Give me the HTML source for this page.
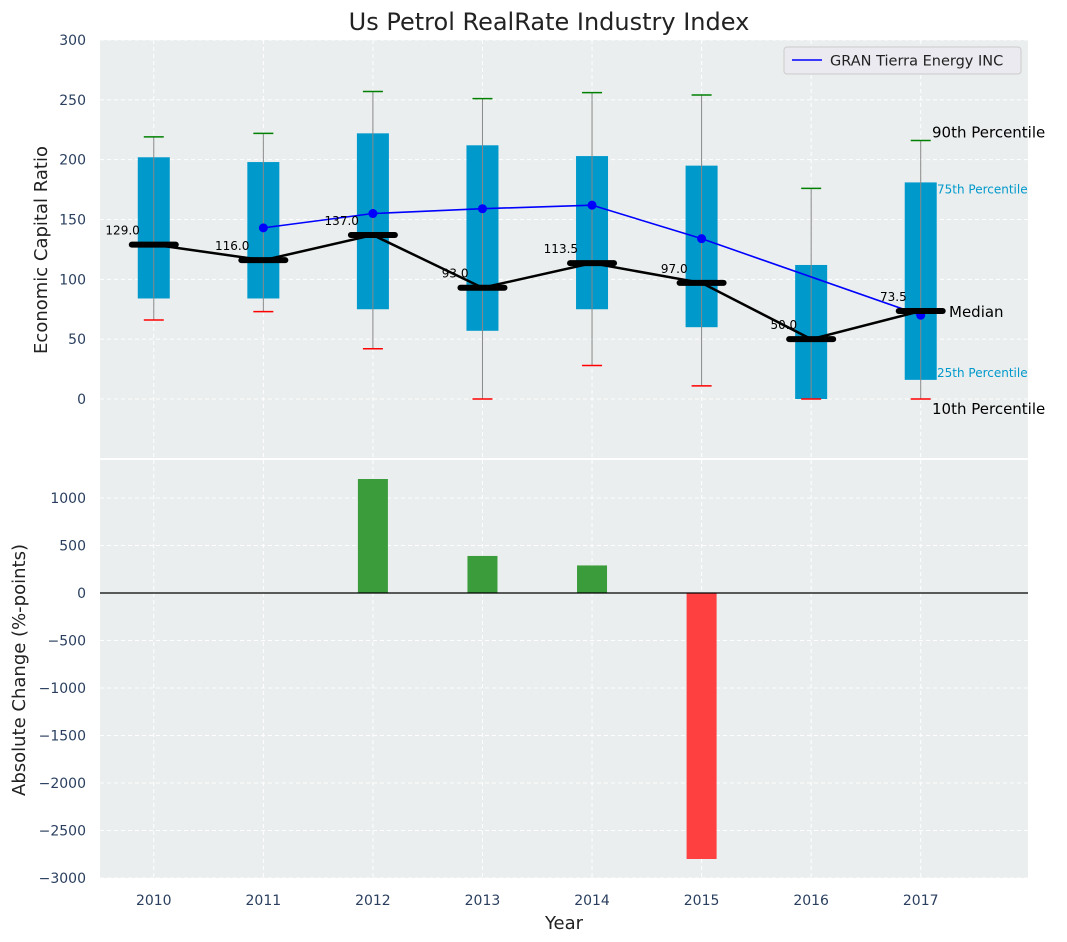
<!DOCTYPE html>
<html><head><meta charset="utf-8"><style>
body{margin:0;background:#fff;}
svg{display:block;font-family:"DejaVu Sans","Liberation Sans",sans-serif;}
</style></head><body>
<svg id="c" width="1067" height="942"></svg>
<script>
const years=[2010,2011,2012,2013,2014,2015,2016,2017];
const p10=[66,73,42,0,28,11,0,0];
const p25=[84,84,75,57,75,60,0,16];
const med=[129,116,137,93,113.5,97,50,73.5];
const p75=[202,198,222,212,203,195,112,181];
const p90=[219,222,257,251,256,254,176,216];
const company=[null,143,155,159,162,134,null,70];
const changes=[0,0,1200,390,290,-2800,0,0];
const yTicksTop=[0,50,100,150,200,250,300];
const yTicksBot=[-3000,-2500,-2000,-1500,-1000,-500,0,500,1000];
const NS="http://www.w3.org/2000/svg";
const svg=document.getElementById('c');
function el(t,a,p){const e=document.createElementNS(NS,t);for(const k in a)e.setAttribute(k,a[k]);(p||svg).appendChild(e);return e;}
const L=100,R=1028;
const X=i=>L+(i+0.5)*(R-L)/8.47-1;
const Y1=v=>399-v*359/300;
const Y2=v=>593-v*0.095;
const bg="#eaeeee";
const ax1=el('rect',{x:L,y:40,width:R-L,height:418,fill:bg});

const ax2=el('rect',{x:L,y:460,width:R-L,height:418,fill:bg});

years.forEach((y,i)=>{
  el('line',{x1:X(i),x2:X(i),y1:40,y2:458,stroke:'#fff','stroke-dasharray':'4,3'});
  el('line',{x1:X(i),x2:X(i),y1:460,y2:878,stroke:'#fff','stroke-dasharray':'4,3'});
  const t=el('text',{x:X(i),y:905,'text-anchor':'middle','font-size':14,fill:'#2a3f5f'});t.textContent=y;
  
});
yTicksTop.forEach(v=>{
  el('line',{x1:L,x2:R,y1:Y1(v),y2:Y1(v),stroke:'#fff','stroke-dasharray':'4,3'});
  const t=el('text',{x:L-14,y:Y1(v)+5,'text-anchor':'end','font-size':14,fill:'#2a3f5f'});t.textContent=v;
  
});
yTicksBot.forEach(v=>{
  el('line',{x1:L,x2:R,y1:Y2(v),y2:Y2(v),stroke:'#fff','stroke-dasharray':'4,3'});
  const t=el('text',{x:L-14,y:Y2(v)+5,'text-anchor':'end','font-size':14,fill:'#2a3f5f'});t.textContent=(v<0?'\u2212'+(-v):v);
  
});
years.forEach((y,i)=>{
  const x=X(i);
  const b=el('rect',{x:x-16,y:Y1(p75[i]),width:32,height:Y1(p25[i])-Y1(p75[i]),fill:'#0099cc'});
  
  el('line',{x1:x,x2:x,y1:Y1(p10[i]),y2:Y1(p90[i]),stroke:'#888','stroke-width':1});
  el('line',{x1:x-10,x2:x+10,y1:Y1(p90[i]),y2:Y1(p90[i]),stroke:'green','stroke-width':1.5});
  el('line',{x1:x-10,x2:x+10,y1:Y1(p10[i]),y2:Y1(p10[i]),stroke:'red','stroke-width':1.5});
});
let d='';company.forEach((v,i)=>{if(v!==null)d+=(d?'L':'M')+X(i)+','+Y1(v);});
const cl=el('path',{d:d,fill:'none',stroke:'blue','stroke-width':1.6});

company.forEach((v,i)=>{if(v!==null){const c=el('circle',{cx:X(i),cy:Y1(v),r:4.5,fill:'blue'});
}});
const md=med.map((v,i)=>(i?'L':'M')+X(i)+','+Y1(v)).join('');
const ml=el('path',{d:md,fill:'none',stroke:'#000','stroke-width':2.5});

med.forEach((v,i)=>{
  const m=el('line',{x1:X(i)-22,x2:X(i)+22,y1:Y1(v),y2:Y1(v),stroke:'#000','stroke-width':6,'stroke-linecap':'round'});
  
  const t=el('text',{x:X(i)-14,y:Y1(v)-10,'text-anchor':'end','font-size':12,fill:'#000'});t.textContent=v.toFixed(1);
  
});
const li=7;
[[Y1(p90[li])-3,'90th Percentile',15,'#000',932],[Y1(p75[li])+11,'75th Percentile',12,'#0099cc',937],
 [Y1(med[li])+6,'Median',15,'#000',949],[377,'25th Percentile',12,'#0099cc',937],[Y1(p10[li])+15,'10th Percentile',15,'#000',932]]
.forEach(a=>{const t=el('text',{x:a[4],y:a[0],'font-size':a[2],fill:a[3]});t.textContent=a[1];
});
changes.forEach((v,i)=>{if(!v)return;
  const b=el('rect',{x:X(i)-15,y:Math.min(Y2(v),Y2(0)),width:30,height:Math.abs(Y2(v)-Y2(0)),fill:v>0?'#3a9c3a':'#ff4040'});
  });
el('line',{x1:L,x2:R,y1:Y2(0),y2:Y2(0),stroke:'#000','stroke-width':1.2});
const lg=el('g',{});
el('rect',{x:784,y:47,width:237,height:27,rx:3,fill:'#eaeaf0',stroke:'#ccc'},lg);
el('line',{x1:792,x2:822,y1:60,y2:60,stroke:'blue','stroke-width':1.6},lg);
const lt=el('text',{x:830,y:65.5,'font-size':14.5,fill:'#222'},lg);lt.textContent='GRAN Tierra Energy INC';
const ti=el('text',{x:549,y:30,'text-anchor':'middle','font-size':24,fill:'#222'});ti.textContent='Us Petrol RealRate Industry Index';

const xt=el('text',{x:564,y:929,'text-anchor':'middle','font-size':18,fill:'#222'});xt.textContent='Year';

const y1t=el('text',{x:47,y:250,'text-anchor':'middle','font-size':18,fill:'#222',transform:'rotate(-90 47 250)'});y1t.textContent='Economic Capital Ratio';

const y2t=el('text',{x:25,y:670,'text-anchor':'middle','font-size':18,fill:'#222',transform:'rotate(-90 25 670)'});y2t.textContent='Absolute Change (%-points)';

</script>
</body></html>
